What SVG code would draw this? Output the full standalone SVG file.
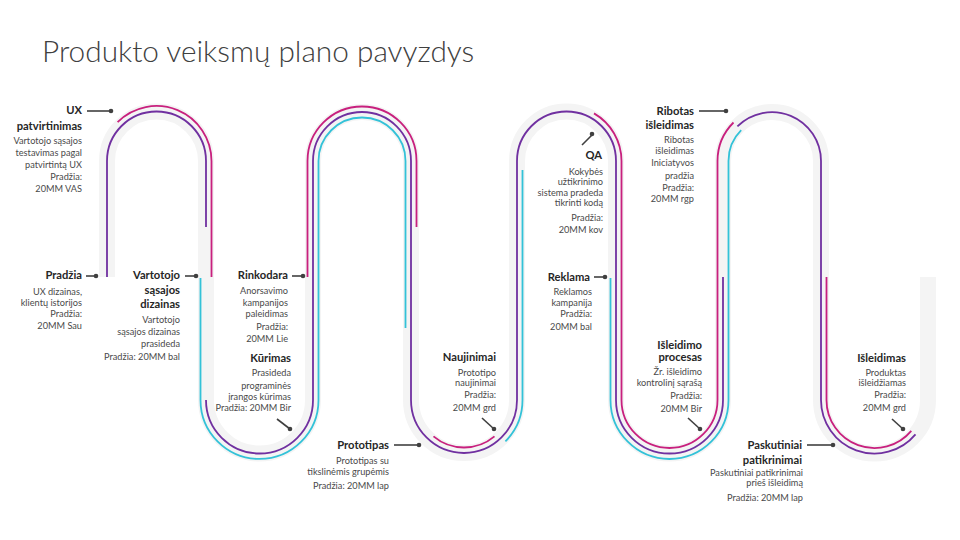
<svg xmlns="http://www.w3.org/2000/svg" width="960" height="540" viewBox="0 0 960 540">
<style>
.t{font-family:Lato,"Liberation Sans",sans-serif;font-size:11.2px;font-weight:bold;fill:#262626;text-anchor:end}
.d{font-family:Lato,"Liberation Sans",sans-serif;font-size:9.2px;fill:#4a4a4a;text-anchor:end}
.ln{stroke:#404040;stroke-width:1.6;fill:none}
.dot{fill:#404040}
.road{fill:none;stroke:#f4f4f4;stroke-width:16}
.p{fill:none;stroke:#c8207e;stroke-width:1.8}
.u{fill:none;stroke:#7030a0;stroke-width:1.8}
.c{fill:none;stroke:#33c2d8;stroke-width:1.8}
</style>
<rect width="960" height="540" fill="#fff"/>
<text x="42" y="62" font-family="Lato,'Liberation Sans',sans-serif" font-weight="300" font-size="29.8" fill="#404040">Produkto veiksmų plano pavyzdys</text>
<g id="connectors">
<path class="road" d="M107 277 V161 A49.5 49.5 0 0 1 206 161 V400 A53.5 53.5 0 0 0 313 400 V161 A49 49 0 0 1 411 161 V400 A53 53 0 0 0 517 400 V161 A49.5 49.5 0 0 1 616 161 V400 A53.5 53.5 0 0 0 723 400 V161 A49 49 0 0 1 821 161 V400 A53.5 53.5 0 0 0 928 400 V277"/>
<path class="u" d="M107 277 V161 A49.5 49.5 0 0 1 206 161 V227"/>
<path class="u" d="M206 400 A53.5 53.5 0 0 0 313 400 V161 A49 49 0 0 1 411 161 V400 A53 53 0 0 0 517 400 V161 A49.5 49.5 0 0 1 616 161 V400 A53.5 53.5 0 0 0 723 400 V277"/>
<path class="u" d="M737.4 126.4 A49 49 0 0 1 821 161 V400 A53.5 53.5 0 0 0 915.5 434.4"/>
<path class="p" d="M117.6 122.1 A55 55 0 0 1 211.5 161 V277"/>
<path class="p" d="M307.5 277 V161 A54.5 54.5 0 0 1 416.5 161 V227"/>
<path class="p" d="M433.5 436.4 A47.5 47.5 0 0 0 494.5 436.4"/>
<path class="p" d="M594 113.4 A55 55 0 0 1 621.5 161 V400 A48 48 0 0 0 717.5 400 V161 A54.5 54.5 0 0 1 733.5 122.5"/>
<path class="p" d="M826.5 277 V400 A48 48 0 0 0 911.3 430.9"/>
<path class="c" d="M200.5 278 V400 A59 59 0 0 0 318.5 400 V161 A43.5 43.5 0 0 1 405.5 161 V328"/>
<path class="c" d="M505.4 441.4 A58.5 58.5 0 0 0 522.5 400 V170"/>
<path class="c" d="M610.5 278 V400 A59 59 0 0 0 728.5 400 V161 A43.5 43.5 0 0 1 741.2 130.2"/>
</g>
<g id="n1"><text class="t" x="82" y="114">UX</text><text class="t" x="82" y="130">patvirtinimas</text>
<text class="d" x="82" y="144">Vartotojo sąsajos</text><text class="d" x="82" y="156">testavimas pagal</text><text class="d" x="82" y="168">patvirtintą UX</text><text class="d" x="82" y="180">Pradžia:</text><text class="d" x="82" y="192">20MM VAS</text>
<line class="ln" x1="87" y1="111" x2="111" y2="111"/><circle class="dot" cx="111" cy="111" r="2.3"/></g>
<g id="n2"><text class="t" x="82" y="279">Pradžia</text>
<text class="d" x="82" y="295">UX dizainas,</text><text class="d" x="82" y="306">klientų istorijos</text><text class="d" x="82" y="317">Pradžia:</text><text class="d" x="82" y="329">20MM Sau</text>
<line class="ln" x1="86" y1="276" x2="96" y2="276"/><circle class="dot" cx="96" cy="276" r="2.3"/></g>
<g id="n3"><text class="t" x="180" y="279">Vartotojo</text><text class="t" x="180" y="294">sąsajos</text><text class="t" x="180" y="308">dizainas</text>
<text class="d" x="180" y="323">Vartotojo</text><text class="d" x="180" y="335">sąsajos dizainas</text><text class="d" x="180" y="347">prasideda</text><text class="d" x="180" y="360">Pradžia: 20MM bal</text>
<line class="ln" x1="185" y1="276" x2="196" y2="276"/><circle class="dot" cx="196" cy="276" r="2.3"/></g>
<g id="n4"><text class="t" x="288" y="279">Rinkodara</text>
<text class="d" x="288" y="294">Anorsavimo</text><text class="d" x="288" y="306">kampanijos</text><text class="d" x="288" y="317">paleidimas</text><text class="d" x="288" y="330">Pradžia:</text><text class="d" x="288" y="342">20MM Lie</text>
<line class="ln" x1="292" y1="276" x2="303" y2="276"/><circle class="dot" cx="303" cy="276" r="2.3"/></g>
<g id="n5"><text class="t" x="291" y="362">Kūrimas</text>
<text class="d" x="291" y="376">Prasideda</text><text class="d" x="291" y="389">programinės</text><text class="d" x="291" y="400">įrangos kūrimas</text><text class="d" x="291" y="411">Pradžia: 20MM Bir</text>
<line class="ln" x1="277" y1="419" x2="290" y2="429"/><circle class="dot" cx="290" cy="429" r="2.3"/></g>
<g id="n6"><text class="t" x="389" y="449">Prototipas</text>
<text class="d" x="389" y="464">Prototipas su</text><text class="d" x="389" y="475">tikslinėmis grupėmis</text><text class="d" x="389" y="489">Pradžia: 20MM lap</text>
<line class="ln" x1="394" y1="445" x2="419" y2="445"/><circle class="dot" cx="419" cy="445" r="2.3"/></g>
<g id="n7"><text class="t" x="496" y="361">Naujinimai</text>
<text class="d" x="496" y="376">Prototipo</text><text class="d" x="496" y="386">naujinimai</text><text class="d" x="496" y="398">Pradžia:</text><text class="d" x="496" y="411">20MM grd</text>
<line class="ln" x1="482" y1="418" x2="494" y2="429"/><circle class="dot" cx="494" cy="429" r="2.3"/></g>
<g id="n8"><text class="t" x="602" y="159">QA</text>
<text class="d" x="603" y="175">Kokybės</text><text class="d" x="603" y="185">užtikrinimo</text><text class="d" x="603" y="196">sistema pradeda</text><text class="d" x="603" y="206">tikrinti kodą</text><text class="d" x="603" y="221">Pradžia:</text><text class="d" x="603" y="233">20MM kov</text>
<line class="ln" x1="582" y1="145" x2="592" y2="135"/><circle class="dot" cx="592" cy="134" r="2.3"/></g>
<g id="n9"><text class="t" x="694" y="115">Ribotas</text><text class="t" x="694" y="129">išleidimas</text>
<text class="d" x="694" y="143">Ribotas</text><text class="d" x="694" y="154">išleidimas</text><text class="d" x="694" y="166">Iniciatyvos</text><text class="d" x="694" y="179">pradžia</text><text class="d" x="694" y="191">Pradžia:</text><text class="d" x="694" y="202">20MM rgp</text>
<line class="ln" x1="699" y1="111" x2="726" y2="111"/><circle class="dot" cx="726" cy="111" r="2.3"/></g>
<g id="n10"><text class="t" x="590" y="281">Reklama</text>
<text class="d" x="592" y="295">Reklamos</text><text class="d" x="592" y="306">kampanija</text><text class="d" x="592" y="317">Pradžia:</text><text class="d" x="592" y="330">20MM bal</text>
<line class="ln" x1="594" y1="277" x2="605" y2="277"/><circle class="dot" cx="605" cy="277" r="2.3"/></g>
<g id="n11"><text class="t" x="702" y="349">Išleidimo</text><text class="t" x="702" y="361">procesas</text>
<text class="d" x="702" y="375">Žr. išleidimo</text><text class="d" x="702" y="386">kontrolinį sąrašą</text><text class="d" x="702" y="399">Pradžia:</text><text class="d" x="702" y="412">20MM Bir</text>
<line class="ln" x1="688" y1="418" x2="700" y2="429"/><circle class="dot" cx="700" cy="429" r="2.3"/></g>
<g id="n12"><text class="t" x="802" y="449">Paskutiniai</text><text class="t" x="802" y="464">patikrinimai</text>
<text class="d" x="803" y="476">Paskutiniai patikrinimai</text><text class="d" x="803" y="486">prieš išleidimą</text><text class="d" x="803" y="501">Pradžia: 20MM lap</text>
<line class="ln" x1="807" y1="445" x2="833" y2="445"/><circle class="dot" cx="833" cy="445" r="2.3"/></g>
<g id="n13"><text class="t" x="906" y="362">Išleidimas</text>
<text class="d" x="906" y="376">Produktas</text><text class="d" x="906" y="386">išleidžiamas</text><text class="d" x="906" y="398">Pradžia:</text><text class="d" x="906" y="411">20MM grd</text>
<line class="ln" x1="892" y1="419" x2="903" y2="429"/><circle class="dot" cx="903" cy="429" r="2.3"/></g>
</svg>
